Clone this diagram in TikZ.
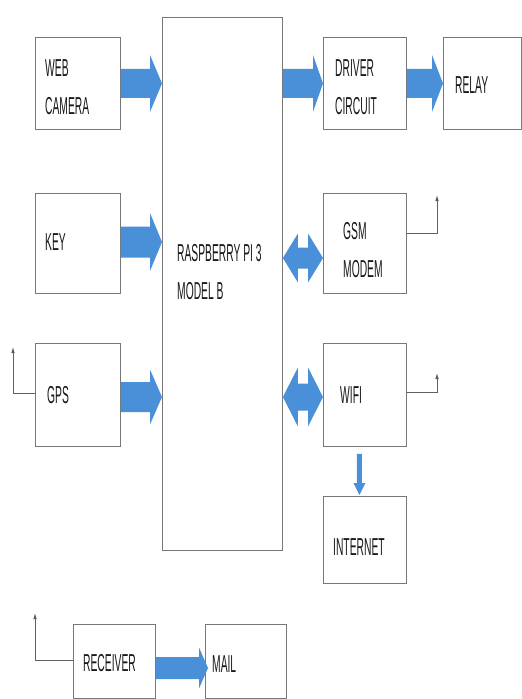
\documentclass[tikz,border=0pt]{standalone}
\usepackage{fontspec}
\newfontfamily\nf[FakeStretch=0.42]{Liberation Sans}
\usetikzlibrary{calc,arrows.meta}
\definecolor{arrblue}{RGB}{74,144,217}
\definecolor{boxgray}{RGB}{120,120,120}
\newcommand\blockarr[5]{%
  \fill[arrblue] ($(#1)+(0,#3)$) -- ($(#2)+(-#5,#3)$) -- ($(#2)+(-#5,#4)$) -- (#2)
    -- ($(#2)+(-#5,-#4)$) -- ($(#2)+(-#5,-#3)$) -- ($(#1)+(0,-#3)$) -- cycle;}
\newcommand\dblarr[5]{%
  \fill[arrblue] (#1) -- ($(#1)+(#5,#4)$) -- ($(#1)+(#5,#3)$) -- ($(#2)+(-#5,#3)$)
    -- ($(#2)+(-#5,#4)$) -- (#2) -- ($(#2)+(-#5,-#4)$) -- ($(#2)+(-#5,-#3)$)
    -- ($(#1)+(#5,-#3)$) -- ($(#1)+(#5,-#4)$) -- cycle;}
\begin{document}
\begin{tikzpicture}[x=1pt,y=-1pt,
  box/.style={draw=boxgray,line width=0.9pt,inner sep=0pt,anchor=north west},
  lbl/.style={anchor=west,inner sep=0pt,align=left,text=black!90,
    font=\nf\fontsize{24.5}{38}\selectfont},
  ant/.style={draw=boxgray!80!black,line width=0.8pt,-{Latex[length=6pt,width=3.5pt,fill=black]}}]
\useasboundingbox[fill=white] (0,0) rectangle (522,699);
% boxes
\node[box,minimum width=85pt,minimum height=92pt] (web) at (35,37) {};
\node[box,minimum width=120pt,minimum height=533pt] (rpi) at (162,17) {};
\node[box,minimum width=83pt,minimum height=92pt] (drv) at (323,37) {};
\node[box,minimum width=78pt,minimum height=92pt] (rly) at (443,37) {};
\node[box,minimum width=85pt,minimum height=100pt] (key) at (35,193) {};
\node[box,minimum width=83pt,minimum height=100pt] (gsm) at (323,193) {};
\node[box,minimum width=85pt,minimum height=103pt] (gps) at (35,343) {};
\node[box,minimum width=83pt,minimum height=103pt] (wifi) at (323,343) {};
\node[box,minimum width=83pt,minimum height=87pt] (inet) at (323,496) {};
\node[box,minimum width=82pt,minimum height=74pt] (rcv) at (73,624) {};
\node[box,minimum width=81pt,minimum height=74pt] (mail) at (205,624) {};
% labels
\node[lbl] (tweb) at (45,87) {WEB\\CAMERA};
\node[lbl] (trpi) at (177,272) {RASPBERRY PI 3\\MODEL B};
\node[lbl] (tdrv) at (335,87) {DRIVER\\CIRCUIT};
\node[lbl] (trly) at (455,85) {RELAY};
\node[lbl] (tkey) at (45,242) {KEY};
\node[lbl] (tgsm) at (343,250) {GSM\\MODEM};
\node[lbl] (tgps) at (47,395) {GPS};
\node[lbl] (twifi) at (340,395) {WIFI};
\node[lbl] (tinet) at (333,547) {INTERNET};
\node[lbl] (trcv) at (83,663) {RECEIVER};
\node[lbl] (tmail) at (212,664) {MAIL};
% block arrows
\blockarr{web.east}{web.east -| rpi.west}{14.5}{28.5}{12}
\blockarr{rpi.east |- drv.west}{drv.west}{14.5}{28.5}{10}
\blockarr{drv.east}{rly.west}{14.5}{28.5}{11}
\blockarr{key.east |- 0,242}{rpi.west |- 0,242}{15.5}{29}{12}
\blockarr{gps.east |- 0,397}{rpi.west |- 0,397}{15}{27.5}{12}
\dblarr{rpi.east |- 0,258}{gsm.west |- 0,258}{10.5}{24.5}{15}
\dblarr{rpi.east |- 0,397}{wifi.west |- 0,397}{13.5}{29.5}{15}
\blockarr{rcv.east |- 0,668}{208,668}{11}{20.5}{9}
% wifi -> internet
\coordinate (wa) at ($(wifi.south)+(-5.5,7)$);
\coordinate (wb) at ($(inet.north)+(-5.5,-1)$);
\fill[arrblue] ($(wa)+(-2.5,0)$) -- ($(wb)+(-2.5,-12)$) -- ($(wb)+(-6,-12)$) -- (wb)
  -- ($(wb)+(6,-12)$) -- ($(wb)+(2.5,-12)$) -- ($(wa)+(2.5,0)$) -- cycle;
% antennas
\coordinate (ga) at (437,195);
\coordinate (wa2) at (437,373);
\coordinate (pa) at (13,347);
\coordinate (ra) at (35,613);
\draw[ant] (gsm.east |- 0,233) -| (ga);
\draw[ant] (wifi.east |- 0,392) -| (wa2);
\draw[ant] (gps.west |- 0,393) -| (pa);
\draw[ant] (rcv.west |- 0,660) -| (ra);
\end{tikzpicture}
\end{document}
